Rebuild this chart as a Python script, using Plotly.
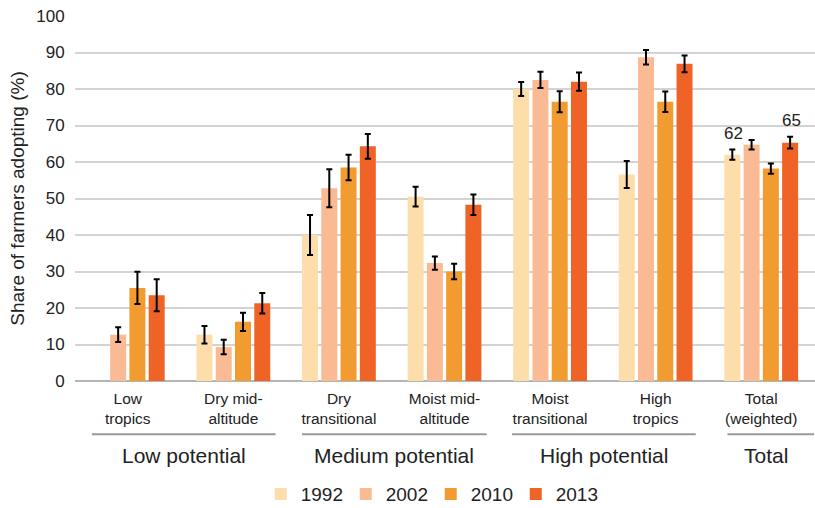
import plotly.graph_objects as go

categories = ["Low<br>tropics", "Dry mid-<br>altitude", "Dry<br>transitional",
              "Moist mid-<br>altitude", "Moist<br>transitional", "High<br>tropics",
              "Total<br>(weighted)"]
years = ["1992", "2002", "2010", "2013"]
v1992 = [None, 12.7, 40.0, 50.5, 80.0, 56.6, 62.0]
v2002 = [12.7, 9.3, 52.8, 32.3, 82.5, 88.7, 64.7]
v2010 = [25.5, 16.2, 58.5, 30.0, 76.5, 76.5, 58.2]
v2013 = [23.5, 21.3, 64.3, 48.3, 82.0, 86.9, 65.3]
e1992 = [0, 2.4, 5.5, 2.7, 1.9, 3.7, 1.4]
e2002 = [2.0, 2.0, 5.2, 1.8, 2.2, 2.0, 1.3]
e2010 = [4.4, 2.5, 3.5, 2.1, 2.9, 2.8, 1.4]
e2013 = [4.4, 2.8, 3.4, 2.8, 2.5, 2.3, 1.6]
groups = ["Low potential", "Medium potential", "High potential", "Total"]
group_spans = [(-0.34, 1.40), (1.65, 3.40), (3.64, 5.38), (5.68, 6.5)]
colors = ["#FDDEAB", "#FABB94", "#F19B30", "#EF6426"]

FONT = "Liberation Sans, Arial, Helvetica, sans-serif"
fig = go.Figure()
for name, vals, errs, col in zip(years, [v1992, v2002, v2010, v2013],
                                 [e1992, e2002, e2010, e2013], colors):
    fig.add_trace(go.Bar(
        name=name, x=categories, y=vals, marker=dict(color=col, line=dict(width=0)),
        error_y=dict(type="data", array=errs, color="black", thickness=2, width=3),
    ))

# data labels on total
fig.add_annotation(x=categories[6], y=v1992[6] + e1992[6], text="62", showarrow=False,
                   xshift=-28, yshift=5, yanchor="bottom", font=dict(size=17, color="#222"))
fig.add_annotation(x=categories[6], y=v2013[6] + e2013[6], text="65", showarrow=False,
                   xshift=30, yshift=5, yanchor="bottom", font=dict(size=17, color="#222"))

for g, (a, b) in zip(groups, group_spans):
    fig.add_shape(type="line", xref="x", yref="paper", x0=a, x1=b, y0=-0.146, y1=-0.146,
                  line=dict(color="#9a9a9a", width=2))
    fig.add_annotation(xref="x", yref="paper", x=(a + b) / 2 if g != "Total" else 6.05,
                       y=-0.203, text=g, showarrow=False, yanchor="middle",
                       font=dict(size=21, color="#222"))

fig.update_layout(
    width=815, height=508,
    margin=dict(l=75, r=0, t=16, b=127, autoexpand=False),
    plot_bgcolor="white", paper_bgcolor="white",
    font=dict(family=FONT, color="#222"),
    barmode="group", bargap=0.27, bargroupgap=0.17,
    showlegend=True,
    legend=dict(orientation="h", x=0.251, y=-0.31, xanchor="left", yanchor="middle",
                font=dict(size=19, color="#222"), entrywidth=40, entrywidthmode="pixels",
                traceorder="normal", bgcolor="rgba(0,0,0,0)"),
    xaxis=dict(showgrid=False, ticks="outside", ticklen=3, tickcolor="rgba(0,0,0,0)",
               tickfont=dict(size=15.5, color="#222"),
               showline=False, zeroline=False, automargin=False),
    yaxis=dict(range=[0, 100], dtick=10, showgrid=True, gridcolor="#d3d3d3", gridwidth=1.5,
               zeroline=True, zerolinecolor="#b5b5b5", zerolinewidth=2, automargin=False,
               tickfont=dict(size=17, color="#222"), ticks="outside", ticklen=6,
               tickcolor="rgba(0,0,0,0)",
               title=dict(text="Share of farmers adopting (%)", font=dict(size=19, color="#222"),
                          standoff=6)),
)
fig.write_html("out.html", config={"displayModeBar": False},
               post_script="document.body.style.margin='0';")
